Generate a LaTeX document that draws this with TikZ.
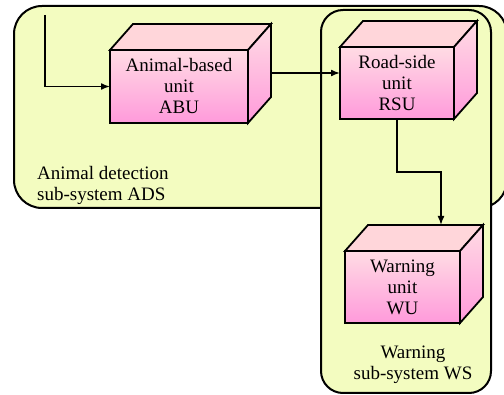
\documentclass[tikz,border=0pt]{standalone}
\usepackage{fontspec}
\setmainfont{Liberation Serif}
\usetikzlibrary{arrows.meta,calc}
\definecolor{bgy}{HTML}{F3FCC0}
\definecolor{pk1}{HTML}{FFDCE4}
\definecolor{pk2}{HTML}{FF9ADB}
\definecolor{pktop}{HTML}{FFD6DA}
\tikzset{
  txt/.style={font=\fontsize{19}{21}\selectfont, inner sep=0pt, align=center},
  region/.style={draw, fill=bgy, line width=2pt},
  front/.style={draw, line width=1.8pt, top color=pk1, bottom color=pk2, outer sep=0pt,
    font=\fontsize{19}{21}\selectfont, align=center, inner sep=0pt},
  face/.style={draw, line width=1.8pt, line join=miter},
  arr/.style={line width=1.6pt, -{Latex[length=9pt,width=7pt]}}
}
\newcommand\cubefaces[1]{%
  \draw[face, top color=pktop, bottom color=pktop] (#1.north west) -- ++(23,-26) -- ($(#1.north east)+(23,-26)$) -- (#1.north east) -- cycle;
  \draw[face, top color=pk1, bottom color=pk2] (#1.north east) -- ++(23,-26) -- ($(#1.south east)+(23,-26)$) -- (#1.south east) -- cycle;
}
\begin{document}
\begin{tikzpicture}[x=1pt,y=-1pt]
\useasboundingbox (0,0) rectangle (504,395);
\begin{scope}
\clip (0,0) rectangle (504,395);
% ADS region
\draw[region, rounded corners=28pt] (14,6) rectangle (507,208);
% WS region
\draw[region, rounded corners=22pt] (321,10) rectangle (491,393);
\end{scope}
% labels
\node[txt, anchor=west, align=left] (adslbl) at (37,185.7) {Animal detection\\sub-system ADS};
\node[txt] (wslbl) at (413,364.4) {Warning\\sub-system WS};
% ABU
\node[front, minimum width=138pt, minimum height=73pt] (ABU) at (179,86.5) {Animal-based\\unit\\ABU};
\cubefaces{ABU}
% RSU
\node[front, minimum width=114pt, minimum height=72pt] (RSU) at (397,83) {Road-side\\unit\\RSU};
\cubefaces{RSU}
% WU
\node[front, minimum width=115pt, minimum height=72pt] (WU) at (402.5,287) {Warning\\unit\\WU};
\cubefaces{WU}
% connectors
\coordinate (in) at (45,15);
\draw[arr] (in) |- (ABU.west);
\coordinate (abuR) at (271,73);
\draw[arr] (abuR) -- (abuR -| RSU.west);
\coordinate (wuT) at (441,225);
\draw[arr] (RSU.south) -- ++(0,53) -| (wuT);
\end{tikzpicture}
\end{document}
